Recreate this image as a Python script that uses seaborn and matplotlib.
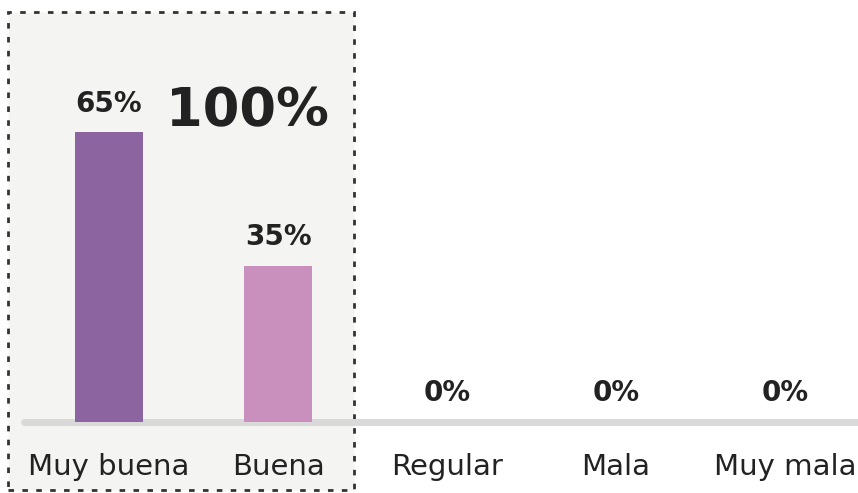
import matplotlib
matplotlib.use("Agg")
import matplotlib.pyplot as plt
import seaborn as sns
import pandas as pd
from matplotlib.patches import Rectangle

categories = ["Muy buena", "Buena", "Regular", "Mala", "Muy mala"]
values = [65, 35, 0, 0, 0]
bar_colors = ["#8b64a0", "#c98fbd", "#c98fbd", "#c98fbd", "#c98fbd"]
total_label = "100%"

sns.set_theme(style="white")
plt.rcParams["font.family"] = ["DejaVu Sans"]

df = pd.DataFrame({"cat": categories, "val": values})

fig = plt.figure(figsize=(8.58, 4.93), dpi=100)
fig.patch.set_facecolor("white")

W, H = 858, 493
ax = fig.add_axes([24 / W, 1 - 422 / H, (858 - 24) / W, (422 - 12) / H])
ax.set_facecolor("none")

# highlight box (figure coords)
box = Rectangle((8 / W, 1 - 490 / H), (354 - 8) / W, (490 - 12) / H,
                transform=fig.transFigure, facecolor="#f4f4f2",
                edgecolor="#333333", linewidth=2, linestyle=(0, (2.0, 3.0)),
                zorder=0, clip_on=False)
ax.add_patch(box)

sns.barplot(data=df, x="cat", y="val", hue="cat", palette=bar_colors,
            legend=False, width=0.40, ax=ax, saturation=1, zorder=3,
            linewidth=0)

ax.set_xlim(-0.503, 4.432)
ax.set_ylim(0, 92)
ax.axhline(0, color="#d9d9d9", linewidth=5, zorder=2, clip_on=False)

for s in ax.spines.values():
    s.set_visible(False)
ax.set_yticks([])
ax.set_xlabel("")
ax.set_ylabel("")
ax.tick_params(axis="x", length=0, pad=22, labelsize=21, labelcolor="#222222")

for i, v in enumerate(values):
    ax.text(i, v + 3.3, f"{v}%", ha="center", va="bottom", fontsize=20,
            fontweight="bold", color="#222222", zorder=4)

ax.text(0.82, 69.7, total_label, ha="center", va="center", fontsize=38,
        fontweight="bold", color="#222222", zorder=4)

fig.savefig("out.png", dpi=100)
